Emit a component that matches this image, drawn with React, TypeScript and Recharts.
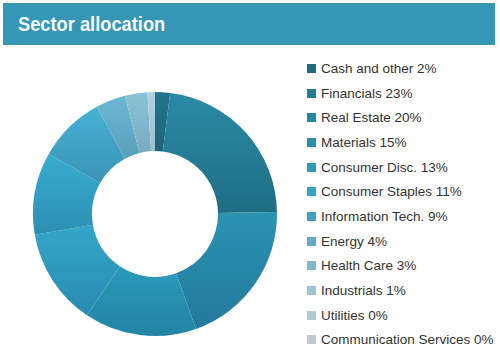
import { PieChart, Pie, Cell, Legend } from "recharts"

const sectors = [
  "Cash and other",
  "Financials",
  "Real Estate",
  "Materials",
  "Consumer Disc.",
  "Consumer Staples",
  "Information Tech.",
  "Energy",
  "Health Care",
  "Industrials",
  "Utilities",
  "Communication Services",
]

const weights = [2, 23, 20, 15, 13, 11, 9, 4, 3, 1, 0, 0]

// legend swatches
const colors = [
  "#1e6a80",
  "#237b94",
  "#2786a2",
  "#2b90ae",
  "#2f9aba",
  "#35a5c6",
  "#3ea3c3",
  "#62abc7",
  "#80b7cc",
  "#9fc3d1",
  "#b1c9d4",
  "#c0c8cd",
]

// slice gradients, top -> bottom
const topColors = [
  "#23758c", "#2a8ba6", "#2b93b3", "#2c9abb", "#33a6ca", "#37acd0",
  "#46b1d4", "#6bb7d3", "#8ac3d8", "#b0d3e0", "#b8d0da", "#c6cfd4",
]
const bottomColors = [
  "#1c6479", "#1f6d84", "#23799a", "#2384a5", "#2a8cb0", "#2d8fb2",
  "#3b93b5", "#5a9fbd", "#77abc2", "#9dbfcd", "#a9c0ca", "#b5bec3",
]

const data = sectors.map((name, i) => ({ name, value: weights[i] }))

function LegendList() {
  return (
    <div style={{ fontFamily: "'Liberation Sans', Arial, sans-serif", fontSize: 13.5, color: "#333" }}>
      {data.map((d, i) => (
        <div key={d.name} style={{ display: "flex", alignItems: "center", height: 24.7 }}>
          <span style={{ width: 9, height: 9, background: colors[i], marginRight: 5, display: "inline-block" }} />
          <span>{`${d.name} ${d.value}%`}</span>
        </div>
      ))}
    </div>
  )
}

export default function App() {
  return (
    <div style={{ position: "fixed", left: 0, top: 0, width: 500, height: 352, background: "#fff" }}>
      <div
        style={{
          position: "absolute",
          left: 3,
          top: 3,
          width: 492,
          height: 42,
          background: "#3596b5",
          color: "#f4fbfd",
          fontFamily: "'Liberation Sans', Arial, sans-serif",
          fontWeight: "bold",
          fontSize: 21,
          lineHeight: "42px",
          paddingLeft: 15,
          boxSizing: "border-box",
        }}
      >
        <span style={{ display: "inline-block", transform: "scaleX(0.87)", transformOrigin: "left center" }}>
          Sector allocation
        </span>
      </div>
      <PieChart width={500} height={352} style={{ position: "absolute", left: 0, top: 0 }}>
        <defs>
          {data.map((d, i) => (
            <linearGradient key={d.name} id={`slice${i}`} x1="0" y1="0" x2="0" y2="1">
              <stop offset="0%" stopColor={topColors[i]} />
              <stop offset="100%" stopColor={bottomColors[i]} />
            </linearGradient>
          ))}
        </defs>
        <Pie
          data={data}
          dataKey="value"
          nameKey="name"
          cx={150}
          cy={209}
          innerRadius={63}
          outerRadius={122}
          startAngle={90}
          endAngle={-270}
          stroke="none"
          isAnimationActive={false}
        >
          {data.map((d, i) => (
            <Cell key={d.name} fill={`url(#slice${i})`} />
          ))}
        </Pie>
        <Legend
          layout="vertical"
          content={() => <LegendList />}
          wrapperStyle={{ left: 307, top: 56, width: 193 }}
        />
      </PieChart>
    </div>
  )
}
